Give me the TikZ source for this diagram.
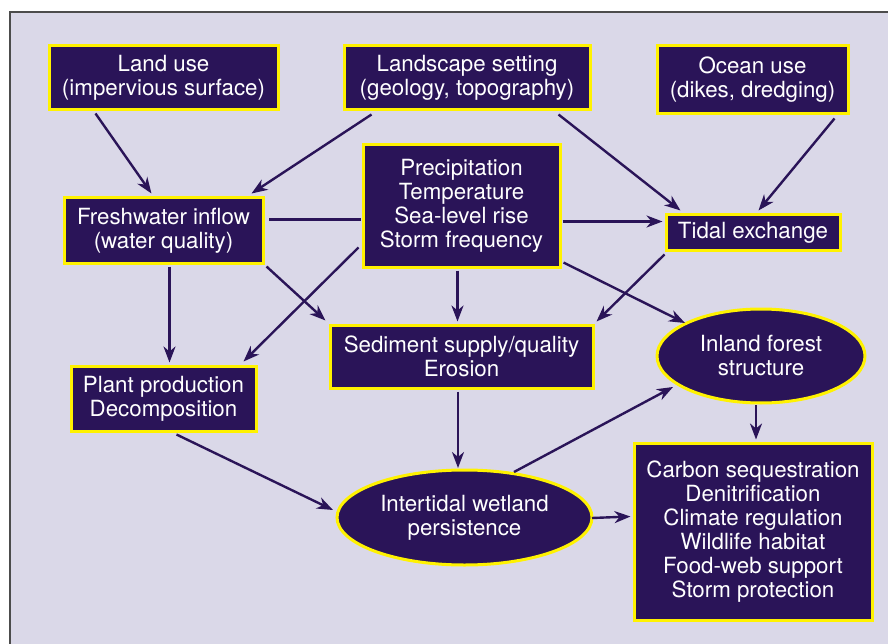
\documentclass[tikz,border=0pt]{standalone}
\usepackage{fontspec}
\setmainfont{TeX Gyre Heros}
\usetikzlibrary{arrows.meta,calc,shapes.geometric}
\definecolor{bg}{HTML}{DAD8E8}
\definecolor{navy}{HTML}{2A1458}
\definecolor{ybord}{HTML}{FFF200}
\begin{document}
\begin{tikzpicture}[x=1pt,y=-1pt,
  box/.style={draw=ybord, line width=3pt, fill=navy, text=white, align=center, inner sep=0pt, font=\fontsize{22.3}{24}\selectfont},
  oval/.style={box, ellipse},
  conn/.style={draw=navy, line width=2.4pt},
  arr/.style={conn, -{Stealth[length=16pt,width=12pt,inset=5pt]}}]
\useasboundingbox (0,0) rectangle (888,644);
\fill[white] (0,0) rectangle (888,644);
\fill[bg] (10,12) rectangle (888,644);
\draw[gray!60!black, line width=1.2pt] (10,644) -- (10,12) -- (888,12);

\node[box, minimum width=229pt, minimum height=64pt] (land) at (163.5,78) {Land use\\(impervious surface)};
\node[box, minimum width=246pt, minimum height=64pt] (landscape) at (467,78) {Landscape setting\\(geology, topography)};
\node[box, minimum width=191pt, minimum height=68pt] (ocean) at (752.5,80) {Ocean use\\(dikes, dredging)};
\node[box, minimum width=199pt, minimum height=65pt] (fresh) at (163.5,230.5) {Freshwater inflow\\(water quality)};
\node[box, minimum width=197pt, minimum height=122pt] (precip) at (461.5,206) {Precipitation\\Temperature\\Sea-level rise\\Storm frequency};
\node[box, minimum width=174pt, minimum height=36pt] (tidal) at (753,233) {Tidal exchange};
\node[box, minimum width=263pt, minimum height=63pt] (sediment) at (461.5,356.5) {Sediment supply/quality\\Erosion};
\node[box, minimum width=185pt, minimum height=65pt] (plant) at (163.5,398.5) {Plant production\\Decomposition};
\node[box, minimum width=238pt, minimum height=177pt] (output) at (753,531.5) {Carbon sequestration\\Denitrification\\Climate regulation\\Wildlife habitat\\Food-web support\\Storm protection};
\node[oval, minimum width=208pt, minimum height=94pt] (inland) at (761,356) {Inland forest\\structure};
\node[oval, minimum width=255pt, minimum height=95pt] (intertidal) at (464.5,517.5) {Intertidal wetland\\persistence};

\draw[arr] ($(land.south west)+(48,2)$) -- ($(fresh.north west)+(89,-3)$);
\draw[arr] ($(landscape.south west)+(29,3)$) -- ($(fresh.north west)+(189,-3)$);
\draw[arr] ($(landscape.south east)+(-33,3)$) -- ($(tidal.north west)+(16,-3)$);
\draw[arr] ($(ocean.south east)+(-15,3)$) -- ($(tidal.north west)+(94,-3)$);
\draw[conn] ($(precip.north west)+(-1,76)$) -- ($(fresh.north east)+(4,23)$);
\draw[arr] ($(precip.north east)+(1,78)$) -- ($(tidal.north west)+(-2,8)$);
\draw[arr] ($(fresh.south west)+(107,2)$) -- ($(plant.north west)+(100,-2)$);
\draw[arr] ($(fresh.south east)+(2,2)$) -- ($(sediment.north west)+(-3,-3)$);
\draw[arr] ($(precip.south west)+(-3,-21)$) -- ($(plant.north east)+(-14,-3)$);
\draw[arr] ($(precip.south west)+(96,2)$) -- ($(sediment.north west)+(129,-2)$);
\draw[arr] ($(tidal.south west)+(0,2)$) -- ($(sediment.north east)+(2,-2)$);
\draw[arr] ($(precip.south east)+(2,-6)$) -- ($(inland.center)+(-76,-33)$);
\draw[arr] ($(sediment.south west)+(129.5,2)$) -- ($(intertidal.center)+(-6.5,-49.5)$);
\draw[arr] ($(plant.south west)+(107,2)$) -- ($(intertidal.center)+(-131.5,-7.5)$);
\draw[arr] ($(intertidal.center)+(49.5,-45.5)$) -- ($(inland.center)+(-88,31)$);
\draw[arr] ($(inland.center)+(-5,49)$) -- ($(output.north west)+(123.5,-2)$);
\draw[arr] ($(intertidal.center)+(127.5,0.5)$) -- ($(output.north west)+(-2,75)$);
\end{tikzpicture}
\end{document}
